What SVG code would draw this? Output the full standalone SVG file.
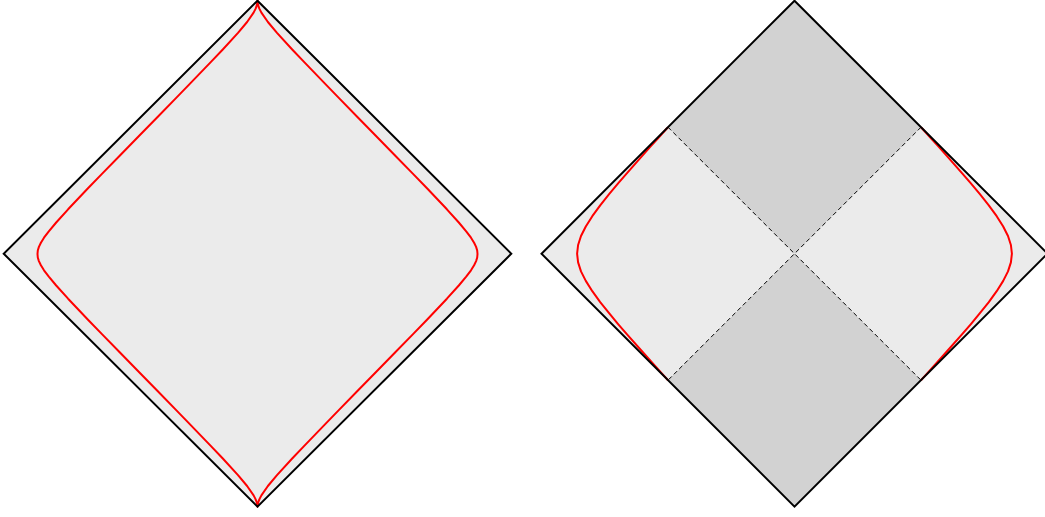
<svg xmlns="http://www.w3.org/2000/svg" width="1045" height="517" viewBox="0 0 1045 517">
<style>
.light{fill:#ebebeb;stroke:none}
.dark{fill:#d2d2d2;stroke:none}
.edge{fill:none;stroke:#000;stroke-width:2;stroke-linejoin:miter}
.curve{fill:none;stroke:#ff0000;stroke-width:2;stroke-linejoin:round}
.horizon{fill:none;stroke:#000;stroke-width:1;stroke-dasharray:4.5 3}
</style>
<rect width="1045" height="517" fill="#fff"/>
<g id="left-diagram">
<polygon class="light" points="257.5,0.7 511.3,253.7 257.5,506.7 3.7,253.7"/>
<path class="curve" d="M257.5,0.7 L258.0,4.56 258.8,7.25 259.6,9.1 261.4,12.65 267.9,22.0 277.0,32.9 292.2,49.5 304.5,62.4 324.5,83.1 338.8,97.9 356.2,115.7 375.8,135.7 395.3,155.7 412.8,173.6 427.0,188.3 446.9,209.3 458.8,222.5 466.2,231.3 471.0,237.7 474.1,242.7 476.1,246.9 477.2,250.5 477.5,254 477.2,257.5 476.1,261.1 474.1,265.3 471.0,270.3 466.2,276.7 458.8,285.5 446.9,298.7 427.0,319.7 412.8,334.4 395.3,352.3 375.8,372.3 356.2,392.3 338.8,410.1 324.5,424.9 304.5,445.6 292.2,458.5 277.0,475.1 267.9,486.0 261.4,495.35 259.6,498.9 258.8,500.75 258.0,503.44 257.5,506.7 257.0,503.44 256.2,500.75 255.4,498.9 253.6,495.35 247.1,486.0 238.0,475.1 222.8,458.5 210.5,445.6 190.5,424.9 176.2,410.1 158.8,392.3 139.2,372.3 119.7,352.3 102.2,334.4 88.0,319.7 68.1,298.7 56.2,285.5 48.8,276.7 44.0,270.3 40.9,265.3 38.9,261.1 37.8,257.5 37.5,254 37.8,250.5 38.9,246.9 40.9,242.7 44.0,237.7 48.8,231.3 56.2,222.5 68.1,209.3 88.0,188.3 102.2,173.6 119.7,155.7 139.2,135.7 158.8,115.7 176.2,97.9 190.5,83.1 210.5,62.4 222.8,49.5 238.0,32.9 247.1,22.0 253.6,12.65 255.4,9.1 256.2,7.25 257.0,4.56 Z"/>
<polygon class="edge" points="257.5,0.7 511.3,253.7 257.5,506.7 3.7,253.7"/>
</g>
<g id="right-diagram">
<polygon class="light" points="541.5,253.7 668,127.2 794.5,253.7 668,380.2"/>
<polygon class="light" points="794.5,253.7 921,127.2 1047.5,253.7 921,380.2"/>
<polygon class="dark" points="794.5,0.7 921,127.2 794.5,253.7 668,127.2"/>
<polygon class="dark" points="794.5,253.7 921,380.2 794.5,506.7 668,380.2"/>
<g id="connectors">
<line class="horizon" x1="668" y1="127.2" x2="921" y2="380.2"/>
<line class="horizon" x1="921" y1="127.2" x2="668" y2="380.2"/>
</g>
<path class="curve" d="M921.0,127.2 L923.3,129.7 927.2,134.1 931.2,138.5 937.7,145.7 947.7,156.9 962.2,173.3 970.9,183.35 979.9,194.2 988.8,205.3 996.7,216.2 1003.2,226.5 1008.0,236.0 1010.9,245.0 1011.9,253.7 1010.9,262.4 1008.0,271.4 1003.2,280.9 996.7,291.2 988.8,302.1 979.9,313.2 970.9,324.05 962.2,334.1 947.7,350.5 937.7,361.7 931.2,368.9 927.2,373.3 923.3,377.7 921.0,380.2"/>
<path class="curve" d="M668.0,127.2 L665.7,129.7 661.8,134.1 657.8,138.5 651.3,145.7 641.3,156.9 626.8,173.3 618.1,183.35 609.1,194.2 600.2,205.3 592.3,216.2 585.8,226.5 581.0,236.0 578.1,245.0 577.1,253.7 578.1,262.4 581.0,271.4 585.8,280.9 592.3,291.2 600.2,302.1 609.1,313.2 618.1,324.05 626.8,334.1 641.3,350.5 651.3,361.7 657.8,368.9 661.8,373.3 665.7,377.7 668.0,380.2"/>
<polygon class="edge" points="794.5,0.7 1047.5,253.7 794.5,506.7 541.5,253.7"/>
</g>
</svg>
